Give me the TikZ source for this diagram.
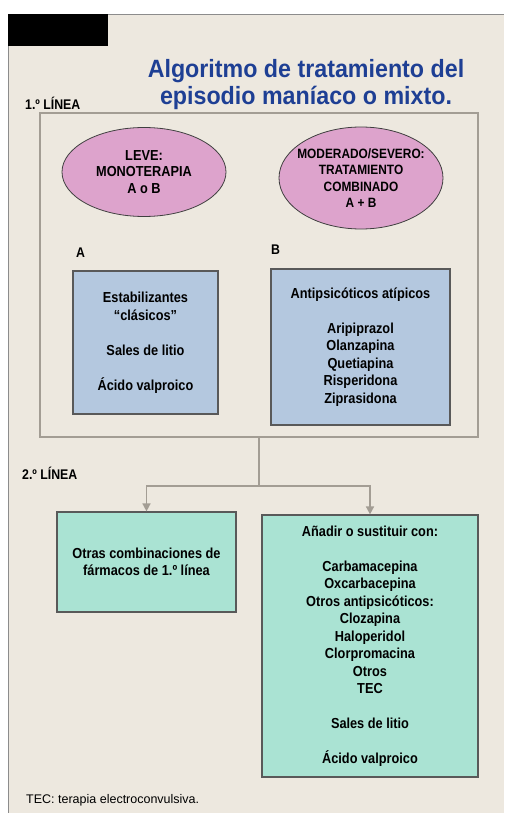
\documentclass[tikz,border=0pt]{standalone}
\usepackage{fontspec}
\setmainfont[FakeStretch=0.88]{Liberation Sans}
\newfontfamily\titlefont[FakeStretch=0.93]{Liberation Sans}
\newfontfamily\notefont{Liberation Sans}
\usetikzlibrary{shapes.geometric,arrows.meta}

\definecolor{paper}{HTML}{EDE8DF}
\definecolor{titleblue}{HTML}{1E3F94}
\definecolor{framegray}{HTML}{A39D94}
\definecolor{ovalpink}{HTML}{DDA3CC}
\definecolor{boxblue}{HTML}{B4C8DF}
\definecolor{boxgreen}{HTML}{AAE3D3}

\tikzset{
  pinkoval/.style={ellipse, draw=black!75, fill=ovalpink, line width=0.8pt, inner sep=0pt, align=center,
    font=\bfseries\fontsize{14.5}{16.5}\selectfont},
  bluebox/.style={rectangle, draw=black!65, fill=boxblue, line width=1.2pt, inner sep=0pt, align=center,
    font=\bfseries\fontsize{14.5}{17.5}\selectfont},
  greenbox/.style={bluebox, fill=boxgreen},
  linelabel/.style={anchor=west, inner sep=0pt, font=\bfseries\fontsize{14}{16}\selectfont},
  arrowline/.style={draw=framegray, line width=1.6pt, -{Triangle[width=8pt,length=8pt]}}
}

\begin{document}
\begin{tikzpicture}[x=1pt, y=-1pt]
\useasboundingbox (0,0) rectangle (504,813);
\fill[white] (0,0) rectangle (504,813);
\fill[paper] (8,14) rectangle (504,813);
\draw[black!45, line width=0.8pt] (8,813) -- (8,14) -- (504,14);
\fill[black] (8,14) rectangle (108,46);

% title
\node[text=titleblue, align=center, font=\titlefont\bfseries\fontsize{25}{27}\selectfont] (title) at (306,85)
  {Algoritmo de tratamiento del\\episodio maníaco o mixto.};

% first line
\node[linelabel] (line1) at (25,103) {1.º LÍNEA};
\node[draw=framegray, line width=1.5pt, minimum width=438pt, minimum height=324pt, inner sep=0pt] (first) at (259,275) {};

\node[pinkoval, minimum width=164pt, minimum height=89pt] (leve) at (144,172)
  {LEVE:\\MONOTERAPIA\\A o B};
\node[pinkoval, font=\bfseries\fontsize{13.5}{16.5}\selectfont, inner xsep=-16pt,
  minimum width=164pt, minimum height=102pt] (severo) at (361,178)
  {MODERADO/SEVERO:\\TRATAMIENTO\\COMBINADO\\A + B};

\node[linelabel] (labA) at (76,253) {A};
\node[linelabel] (labB) at (271,250) {B};

\node[bluebox, minimum width=145pt, minimum height=143pt] (estab) at (145.5,342.5)
  {Estabilizantes\\“clásicos”\\[17.5pt]Sales de litio\\[17.5pt]Ácido valproico};
\node[bluebox, minimum width=179pt, minimum height=156pt] (atip) at (360.5,347)
  {Antipsicóticos atípicos\\[17.5pt]Aripiprazol\\Olanzapina\\Quetiapina\\Risperidona\\Ziprasidona};

% second line
\node[linelabel] (line2) at (22,473) {2.º LÍNEA};

\node[greenbox, minimum width=179pt, minimum height=100pt] (otras) at (146.5,562)
  {Otras combinaciones de\\fármacos de 1.º línea};
\node[greenbox, minimum width=216pt, minimum height=262pt] (anadir) at (370,646)
  {Añadir o sustituir con:\\[17.5pt]Carbamacepina\\Oxcarbacepina\\Otros antipsicóticos:\\Clozapina\\Haloperidol\\Clorpromacina\\Otros\\TEC\\[17.5pt]Sales de litio\\[17.5pt]Ácido valproico};

\draw[draw=framegray, line width=1.6pt] (first.south) -- ++(0,48) coordinate (split);
\draw[arrowline] (split) -| (otras.north);
\draw[arrowline] (split) -| (anadir.north);

\node[anchor=west, inner sep=0pt, font=\notefont\fontsize{12.5}{14}\selectfont] (nota) at (26,800)
  {TEC: terapia electroconvulsiva.};
\end{tikzpicture}
\end{document}
